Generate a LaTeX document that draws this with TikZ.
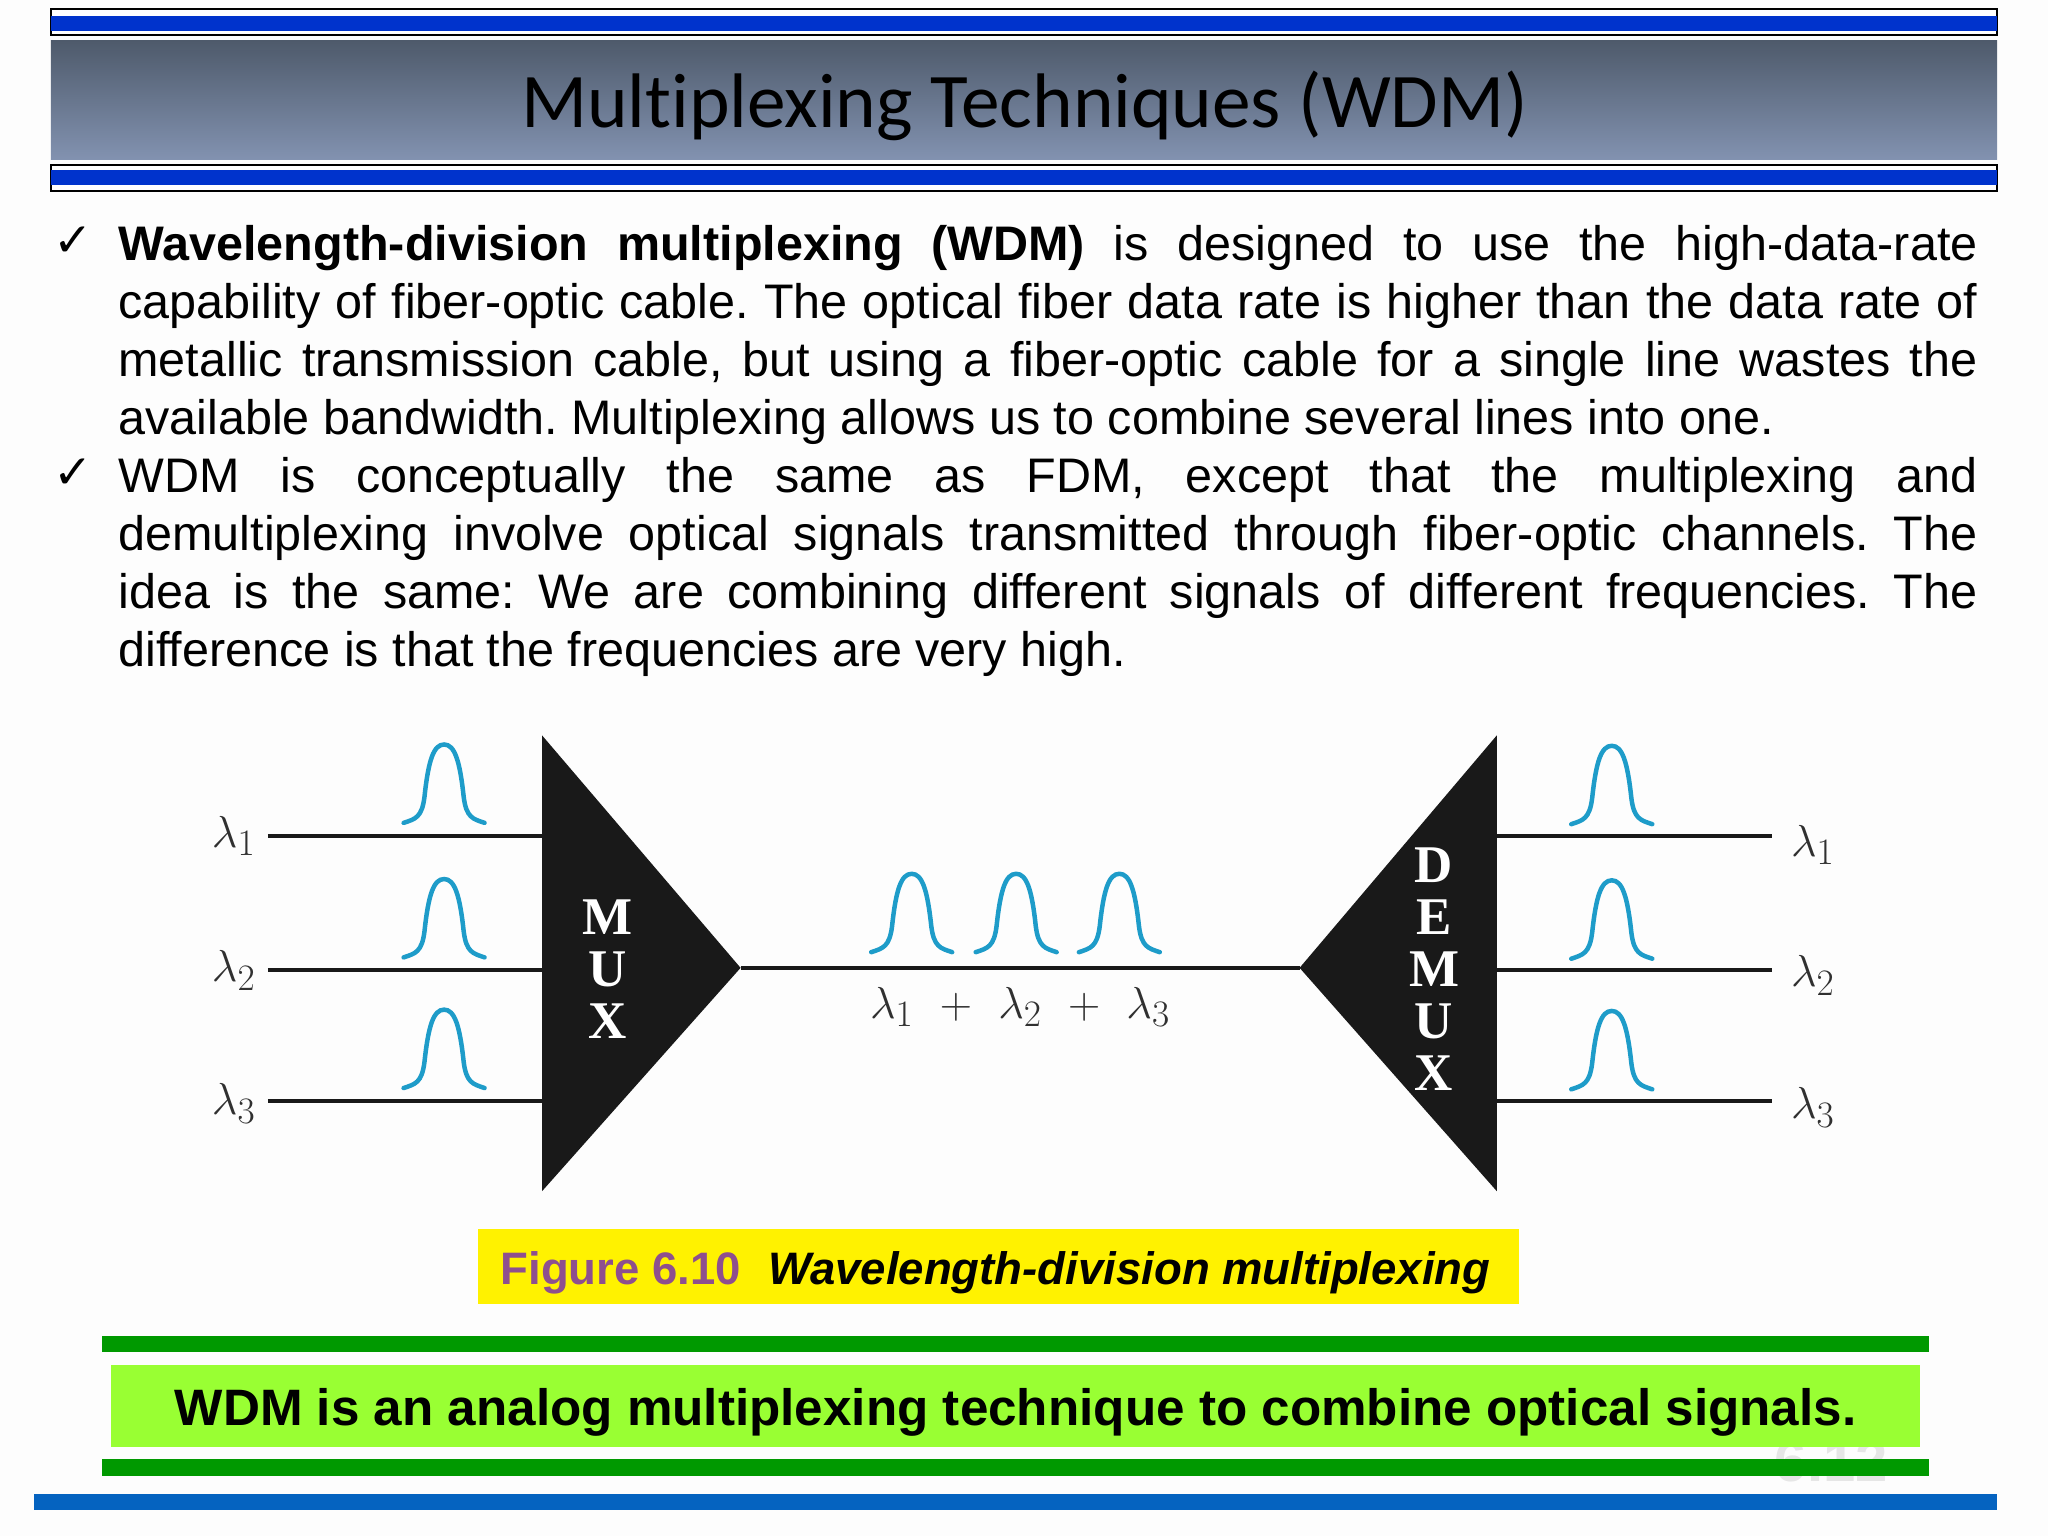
\documentclass[tikz,border=0pt]{standalone}
\usepackage[no-math]{fontspec}
\usepackage{amsmath}
\setmainfont{Liberation Sans}
\newfontfamily\titlefont[Ligatures=NoCommon]{Carlito}
\newfontfamily\serifbold[BoldFont={Liberation Serif Bold}]{Liberation Serif}
\newfontfamily\checkfont{DejaVu Sans}
\definecolor{bandblue}{HTML}{0033CC}
\definecolor{barblue}{HTML}{0563C0}
\definecolor{bargreen}{HTML}{009900}
\definecolor{noteGreen}{HTML}{99FF33}
\definecolor{titletop}{HTML}{4E5A6B}
\definecolor{titlebot}{HTML}{8292B0}
\definecolor{pulseblue}{HTML}{1E9CC9}
\definecolor{figpurple}{HTML}{8E4F8E}
\definecolor{lamgray}{HTML}{303030}
\definecolor{ghost}{HTML}{E6E6E6}
\definecolor{paper}{HTML}{FDFDFD}
\tikzset{
  fiber/.style = {line width=4pt, draw=black!90},
  pulsepen/.style = {line width=4.5pt, draw=pulseblue, line cap=round},
  body/.style = {anchor=north west, inner sep=0pt, text width=1859pt, align=justify,
                 font=\frenchspacing\fontsize{48.5}{58}\selectfont},
  tick/.style = {anchor=base, inner sep=0pt, font=\checkfont\fontsize{47}{47}\selectfont},
  lamlabel/.style = {inner sep=0pt, scale=1.8, text=lamgray, font=\fontsize{24.88}{30}\selectfont},
  stacked/.style = {inner sep=0pt, text=white, align=center, font=\serifbold\bfseries\fontsize{53}{52}\selectfont},
  band/.style = {draw=black, line width=2pt, fill=white},
}
\newcommand{\pulse}[2]{%
  \draw[pulsepen, shift={(#1,#2)}] (-31,0) .. controls (-22,-3) and (-17,-4) .. (-15,-20)
    .. controls (-12,-48) and (-8,-60) .. (0,-60) .. controls (8,-60) and (12,-48) .. (15,-20)
    .. controls (17,-4) and (22,-3) .. (31,0);}
\begin{document}
\begin{tikzpicture}[x=1.306pt, y=-1.306pt]
 \useasboundingbox (0,0) rectangle (1568,1176);
 \fill[paper] (0,0) rectangle (1568,1176);
 % title
 \draw[band] (39,7) rectangle (1529,27);
 \fill[bandblue] (39,12) rectangle (1529,24);
 \shade[top color=titletop, bottom color=titlebot] (39,31) rectangle (1529,122);
 \draw[band] (39,126) rectangle (1529,146);
 \fill[bandblue] (39,130) rectangle (1529,142);
 \node[inner sep=0pt] (heading) at (784.5,81) {\titlefont\fontsize{77.3}{77}\selectfont Multiplexing Techniques (WDM)};
 % text
 \node[tick] (tick1) at (56,196) {✓};
 \node[body] (para1) at (90.6,172.3) {\textbf{Wavelength-division multiplexing (WDM)} is designed to use the high-data-rate\linebreak
   capability of fiber-optic cable. The optical fiber data rate is higher than the data rate of\linebreak
   metallic transmission cable, but using a fiber-optic cable for a single line wastes the\linebreak
   available bandwidth. Multiplexing allows us to combine several lines into one.};
 \node[tick] (tick2) at (56,374) {✓};
 \node[body] (para2) at (90.6,350) {WDM is conceptually the same as FDM, except that the multiplexing and\linebreak
   demultiplexing involve optical signals transmitted through fiber-optic channels. The\linebreak
   idea is the same: We are combining different signals of different frequencies. The\linebreak
   difference is that the frequencies are very high.};
 % mux and demux
 \coordinate (muxtip) at (567,741);
 \coordinate (demuxtip) at (995,741);
 \fill[black!90] (415,563) -- (415,912) -- (muxtip) -- cycle;
 \fill[black!90] (1146,563) -- (1146,912) -- (demuxtip) -- cycle;
 \node[stacked] (muxname) at (465,742) {M\\U\\X};
 \node[stacked] (demuxname) at (1098,742) {D\\E\\M\\U\\X};
 \draw[fiber] (muxtip) -- (demuxtip);
 \foreach \i/\y/\ly in {1/640/640,2/743/743,3/843/845} {
   \node[lamlabel] (inlam\i) at (179,\ly) {$\lambda_\i$};
   \coordinate (instart\i) at (205,\y);
   \coordinate (muxin\i) at (415,\y);
   \draw[fiber] (instart\i) -- (muxin\i);
   \pulse{340}{\y-10}
 }
 \foreach \i/\y/\ly in {1/640/647,2/743/747,3/843/848} {
   \node[lamlabel] (outlam\i) at (1388,\ly) {$\lambda_\i$};
   \coordinate (outend\i) at (1357,\y);
   \coordinate (demuxout\i) at (1146,\y);
   \draw[fiber] (demuxout\i) -- (outend\i);
   \pulse{1234}{\y-9}
 }
 \foreach \x in {698,778,857} {\pulse{\x}{729}}
 \node[lamlabel] (sumlam) at (781,771) {$\lambda_1\hspace{9pt}+\hspace{9pt}\lambda_2\hspace{9pt}+\hspace{9pt}\lambda_3$};
 % caption
 \node[fill=yellow, minimum width=1041pt, minimum height=74.4pt, inner sep=0pt, text height=36pt, text depth=0pt] (caption) at (764.5,969.5)
   {\fontsize{45.5}{46}\selectfont\bfseries\textcolor{figpurple}{Figure 6.10}\hspace{0.6em}\itshape Wavelength-division multiplexing\kern6pt};
 % note
 \node[text=ghost, inner sep=0pt, font=\bfseries\fontsize{58}{58}\selectfont] (pageno) at (1402,1119) {6.12};
 \fill[bargreen] (78,1023) rectangle (1477,1035);
 \fill[bargreen] (78,1117) rectangle (1477,1130);
 \node[fill=noteGreen, minimum width=1809pt, minimum height=82.3pt, inner sep=0pt, text height=38pt, text depth=0pt] (note) at (777.5,1076.5)
   {\fontsize{51.2}{51}\selectfont\bfseries WDM is an analog multiplexing technique to combine optical signals.};
 \fill[barblue] (26,1144) rectangle (1529,1156);
\end{tikzpicture}
\end{document}
